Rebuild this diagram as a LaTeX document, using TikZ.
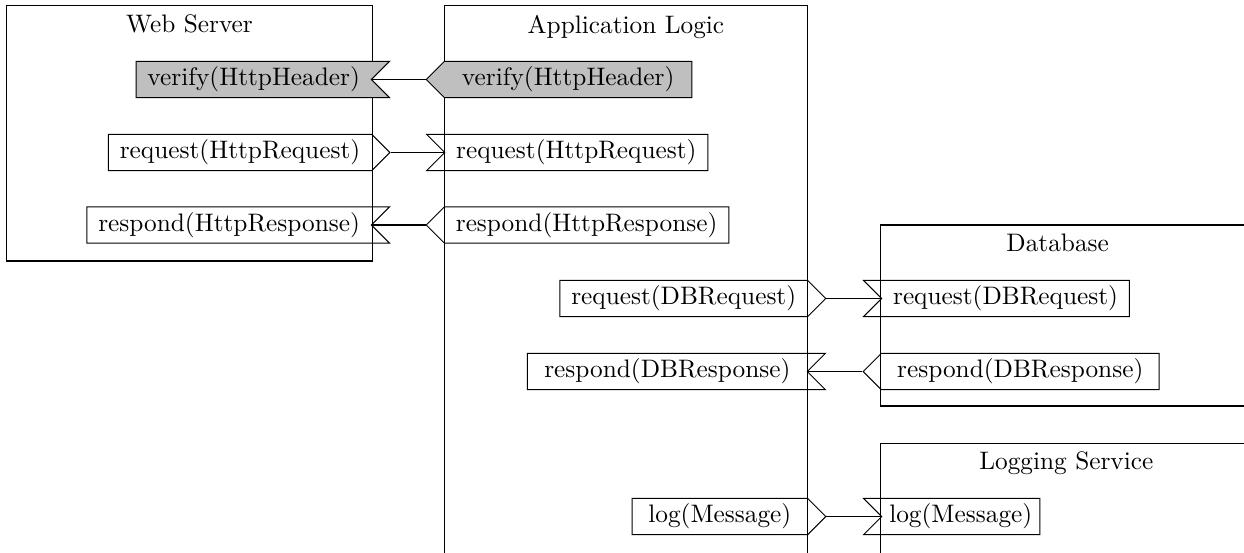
\documentclass[tikz,border=0pt]{standalone}
\usepackage{amssymb}
\usepackage{amsmath}
\usepackage{xcolor}
\usepackage{tikz}
\usetikzlibrary{shapes.symbols}

\begin{document}
\begin{tikzpicture}[
  port/.style = {draw, shape=signal, signal pointer angle=90,
                 inner xsep=4.5pt, inner ysep=2.2pt},
  outport/.style = {port, signal to=#1},
  inport/.style = {port, signal to=nowhere, signal from=#1},
  hdr/.style = {fill=gray!50}
]
\useasboundingbox (0,0) rectangle (17.278,-7.667);
\clip (0,0) rectangle (17.278,-7.667);

%% composants
\draw (0.097,-0.083) rectangle (5.167,-3.625);
\draw (6.167,-0.083) rectangle (11.222,-8.5);
\draw (12.236,-3.125) rectangle (17.6,-5.639);
\draw (12.236,-6.153) rectangle (17.6,-8.5);

%% titres
\node[anchor=north] (web) at (2.632,-0.083) {Web Server};
\node[anchor=north] (app) at (8.694,-0.083) {Application Logic};
\node[anchor=north] (db) at (14.69,-3.125) {Database};
\node[anchor=north] (logsrv) at (14.81,-6.153) {Logging Service};

%% web server <-> application logic
\node[inport=east, hdr, anchor=east] (wsVerify) at (5.167,-1.104) {verify(HttpHeader)};
\node[outport=west, hdr, anchor=west, minimum width=3.69cm] (alVerify) at (5.91,-1.104) {verify(HttpHeader)};
\draw (wsVerify.east) -- (alVerify.west);

\node[outport=east, anchor=east] (wsRequest) at (5.424,-2.118) {request(HttpRequest)};
\node[inport=west, anchor=west] (alRequest) at (6.167,-2.118) {request(HttpRequest)};
\draw (wsRequest.east) -- (alRequest.west);

\node[inport=east, anchor=east] (wsRespond) at (5.167,-3.125) {respond(HttpResponse)};
\node[outport=west, anchor=west] (alRespond) at (5.91,-3.125) {respond(HttpResponse)};
\draw (wsRespond.east) -- (alRespond.west);

%% application logic <-> database
\node[outport=east, anchor=east] (alDBRequest) at (11.479,-4.146) {request(DBRequest)};
\node[inport=west, anchor=west] (dbRequest) at (12.236,-4.146) {request(DBRequest)};
\draw (alDBRequest.east) -- (dbRequest.west);

\node[inport=east, anchor=east, minimum width=4.14cm] (alDBRespond) at (11.222,-5.160) {respond(DBResponse)};
\node[outport=west, anchor=west, minimum width=4.11cm] (dbRespond) at (11.979,-5.160) {respond(DBResponse)};
\draw (alDBRespond.east) -- (dbRespond.west);

%% application logic -> logging service
\node[outport=east, anchor=east, minimum width=2.69cm] (alLog) at (11.479,-7.174) {log(Message)};
\node[inport=west, anchor=west, inner xsep=3pt] (logLog) at (12.236,-7.174) {log(Message)};
\draw (alLog.east) -- (logLog.west);

\end{tikzpicture}
\end{document}
